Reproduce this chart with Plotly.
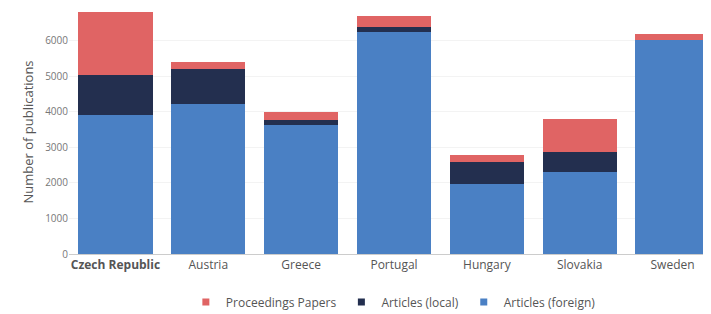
import plotly.graph_objects as go

countries = ["Czech Republic", "Austria", "Greece", "Portugal", "Hungary", "Slovakia", "Sweden"]
tick_labels = ["<b>Czech Republic</b>", "Austria", "Greece", "Portugal", "Hungary", "Slovakia", "Sweden"]
articles_foreign = [3900, 4220, 3620, 6240, 1980, 2300, 6030]
articles_local = [1130, 1000, 150, 160, 600, 560, 0]
proceedings = [1770, 200, 220, 310, 210, 940, 170]

series = [
    ("Articles (foreign)", articles_foreign, "#4a80c4"),
    ("Articles (local)", articles_local, "#232f4f"),
    ("Proceedings Papers", proceedings, "#e06464"),
]

fig = go.Figure()
for name, vals, col in series:
    fig.add_trace(go.Bar(x=countries, y=vals, name=name, showlegend=False,
                         marker=dict(color=col, line=dict(width=0))))
for name, vals, col in series:
    fig.add_trace(go.Scatter(x=[None], y=[None], mode="markers", name=name,
                             marker=dict(symbol="square", size=7, color=col)))

fig.update_layout(
    barmode="stack",
    bargap=0.2,
    width=711, height=314,
    margin=dict(l=61, r=0, t=2, b=68),
    paper_bgcolor="white", plot_bgcolor="white",
    font=dict(family="Open Sans", size=12, color="#666666"),
    showlegend=True,
    legend=dict(orientation="h", traceorder="reversed", xref="container", x=0.542,
                xanchor="center", yref="container", y=0.064, yanchor="middle",
                font=dict(size=12, color="#555555"), itemwidth=30),
    xaxis=dict(tickmode="array", tickvals=countries, ticktext=tick_labels,
               range=[-0.5, 6.5], showline=True, linecolor="#cccccc", linewidth=1,
               ticks="", automargin=False, tickfont=dict(size=12, color="#555555")),
    yaxis=dict(range=[0, 6870], tickvals=[0, 1000, 2000, 3000, 4000, 5000, 6000],
               showgrid=True, gridcolor="#f3f3f3", zeroline=False, automargin=False,
               tickfont=dict(size=10, color="#777777"),
               title=dict(text="Number of publications", font=dict(size=13, color="#555555"),
                          standoff=8)),
)

fig.write_html("out.html")
